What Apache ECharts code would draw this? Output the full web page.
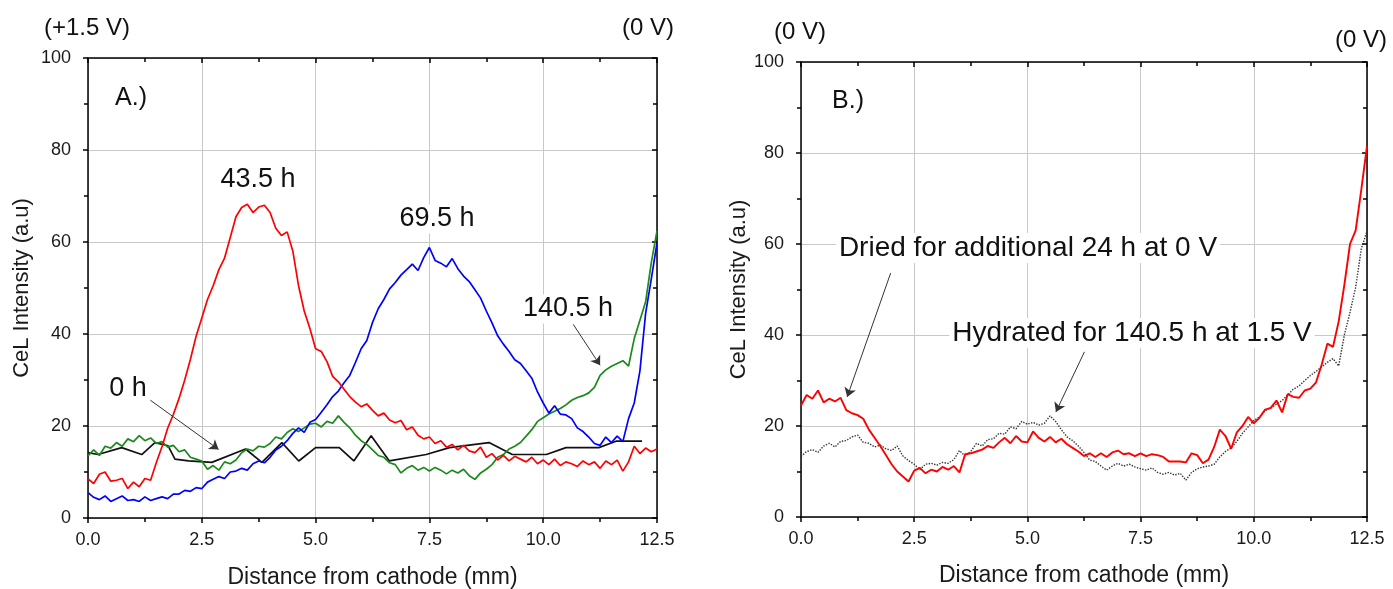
<!DOCTYPE html>
<html>
<head>
<meta charset="utf-8">
<script src="https://cdn.jsdelivr.net/npm/echarts@6/dist/echarts.min.js"></script>
<style>
html,body{margin:0;padding:0;background:#fff;}
#chart{width:1393px;height:589px;}
</style>
</head>
<body>
<div id="chart"></div>
<script>
// ---- data ----
const distance = [
  0, 0.125, 0.25, 0.375, 0.5, 0.625, 0.75, 0.875,
  1, 1.125, 1.25, 1.375, 1.5, 1.625, 1.75, 1.875,
  2, 2.125, 2.25, 2.375, 2.5, 2.625, 2.75, 2.875,
  3, 3.125, 3.25, 3.375, 3.5, 3.625, 3.75, 3.875,
  4, 4.125, 4.25, 4.375, 4.5, 4.625, 4.75, 4.875,
  5, 5.125, 5.25, 5.375, 5.5, 5.625, 5.75, 5.875,
  6, 6.125, 6.25, 6.375, 6.5, 6.625, 6.75, 6.875,
  7, 7.125, 7.25, 7.375, 7.5, 7.625, 7.75, 7.875,
  8, 8.125, 8.25, 8.375, 8.5, 8.625, 8.75, 8.875,
  9, 9.125, 9.25, 9.375, 9.5, 9.625, 9.75, 9.875,
  10, 10.125, 10.25, 10.375, 10.5, 10.625, 10.75, 10.875,
  11, 11.125, 11.25, 11.375, 11.5, 11.625, 11.75, 11.875,
  12, 12.125, 12.25, 12.375, 12.5
];

// Panel A
const a_43h = [
  8.5, 7.5, 9.5, 10, 8, 8.2, 8.6, 6.4,
  7.8, 6.8, 8.6, 8.2, 12, 15.5, 19.5, 22.5,
  26, 30, 34.5, 39.5, 43.5, 47.5, 50.5, 54,
  56.5, 61, 65.5, 67.5, 68.2, 66.4, 67.6, 68,
  66.4, 63, 61.4, 62.2, 58, 50.5, 45, 41.2,
  36.8, 36.2, 34, 30.8, 29.6, 28, 26.4, 25.2,
  24.2, 24.8, 23.4, 22.2, 22.8, 21.3, 20.7, 21.2,
  19.2, 19.8, 18, 17.2, 17.6, 16.2, 16.8, 15.4,
  16, 14.8, 15.8, 14.6, 14.2, 15.4, 13.2, 14,
  12.6, 13.6, 12.4, 13.4, 12.8, 12.2, 13.2, 11.8,
  12.6, 11.6, 12.8, 11.4, 12.2, 11.8, 11.2, 12.4,
  11.6, 12.2, 10.8, 12.4, 11.6, 12.6, 10.2, 12.2,
  15.6, 14, 15.2, 14.4, 15
];
const a_69h = [
  5.5, 4.5, 4, 4.8, 3.6, 4.2, 4.8, 3.8,
  4.0, 3.6, 4.6, 3.8, 4.2, 4.6, 4.2, 5.2,
  5.2, 6, 5.8, 6.6, 6.4, 7.8, 8.4, 9,
  8.6, 10, 10.2, 10.8, 10.4, 11.8, 12.4, 12,
  13.2, 14.8, 15.6, 16.8, 18.4, 19.6, 18.6, 20.8,
  21.4, 23, 24.6, 26.4, 27.6, 29.4, 31, 33.8,
  36.8, 38.6, 42.5, 45.5, 47.5, 49.8, 51.2, 52.8,
  54, 55.2, 53.8, 56.6, 58.8, 56, 55.4, 54.6,
  56.4, 54.2, 52.6, 51.4, 49.6, 47.8, 45, 42.4,
  39.6, 37.8, 36.2, 34.4, 33.6, 32, 30.4, 27.4,
  25, 22.8, 24.4, 22.6, 22.4, 21.6, 19.6, 18.8,
  17.6, 16.2, 15.8, 17.6, 16.4, 17.8, 16.6, 21.6,
  25, 32, 44.5, 52, 59.8
];
const a_140h = [
  13.5, 14.8, 13.6, 15.6, 15.2, 16.4, 15.6, 17.2,
  16.6, 17.9, 16.8, 17.4, 16.2, 16.6, 15.4, 15.8,
  14.4, 14.8, 13.2, 12.8, 12.4, 10.6, 11.4, 10.4,
  12.2, 11.8, 12.6, 14.2, 15, 14.6, 15.6, 15.4,
  16.2, 17.6, 17.2, 18.6, 19.4, 18.8, 19.6, 20.4,
  20.6, 19.8, 21, 20.6, 22.2, 20.8, 19.6, 18,
  16.8, 16, 14.8, 13.6, 13.2, 12, 11.6, 9.8,
  10.8, 11.4, 10.4, 11, 10.2, 11, 10.4, 9.6,
  10.4, 9.8, 10.6, 9.2, 8.4, 9.8, 10.6, 11.6,
  13.2, 13.8, 15, 15.6, 16.4, 17.8, 19.2, 21,
  21.8, 22.6, 23.2, 23.8, 24.6, 25.6, 26.2, 26.6,
  27.2, 28.4, 31, 32.2, 33, 33.6, 34.2, 33,
  39, 43, 47, 55.5, 62.4
];
const a_0h_x = [0, 0.22, 0.74, 1.18, 1.47, 1.76, 1.91, 2.21, 2.72, 3.46, 3.82, 4.26, 4.63, 5.0, 5.52, 5.84, 6.22, 6.62, 7.43, 7.94, 8.81, 9.32, 10.07, 10.5, 11.22, 11.6, 12.17];
const a_0h_y = [14.2, 13.8, 15.3, 13.8, 16.4, 15.7, 12.8, 12.4, 12.1, 15, 12.1, 16.4, 12.4, 15.3, 15.3, 12.4, 17.9, 12.4, 13.8, 15.3, 16.4, 13.8, 13.8, 15.3, 15.3, 16.7, 16.7];

// Panel B
const b_dried = [
  24.5, 26.8, 26, 27.8, 25.2, 26, 25.4, 26.2,
  23.5, 22.8, 22.4, 21.6, 19.2, 17.4, 15.6, 13.6,
  11.6, 10, 8.9, 7.8, 10.2, 10.8, 9.6, 10.4,
  10, 11, 10.4, 11.2, 9.8, 13.8, 14, 14.4,
  14.8, 15.6, 15.2, 16.4, 17.4, 16.2, 17.8, 16.6,
  16.4, 18.8, 17.4, 16.6, 17.6, 16.4, 17.2, 16,
  15.2, 14.4, 13.4, 14, 13.2, 14, 13.2, 14.2,
  14.6, 13.8, 14, 13.4, 14, 13.4, 13.8, 13.6,
  13.2, 12.2, 12.2, 12.2, 12, 14, 13.6, 11.8,
  12.6, 15.4, 19.2, 17.8, 15, 18.6, 20, 22,
  20.6, 21.8, 23.6, 24, 25.6, 23, 27, 26.4,
  26.2, 27.8, 28.2, 29.6, 33.5, 38.1, 37.4, 43,
  51, 60, 63, 72, 81.5
];
const b_hydrated = [
  13.3, 14.4, 14.8, 14.2, 15.6, 16.2, 15.4, 16.6,
  16.8, 17.6, 18, 16.4, 16.2, 15.4, 15.8, 15,
  14.6, 15.6, 13.4, 12.4, 11.6, 10.4, 11.6, 11.8,
  11.4, 12, 11.8, 12.6, 14.6, 13.4, 14.4, 16.2,
  15.6, 17, 17.2, 18.4, 18.2, 19.8, 19.4, 21,
  20.4, 20.8, 20.2, 20.6, 22.2, 21, 19.2, 17.6,
  16.8, 15.6, 14.2, 12.5, 12.2, 11.2, 10.3, 11.2,
  11.8, 11.2, 11.6, 11, 10.6, 10.3, 10.8, 9.8,
  9.4, 9.8, 9.2, 9.6, 8.1, 9.8, 10.6, 11,
  11.2, 11.6, 13.2, 14.4, 15.2, 16.6, 18.4, 19.8,
  21.2, 22, 23.4, 24, 24.8, 25.6, 26.8, 28.1,
  28.8, 30, 31.1, 32, 33, 34, 34.8, 33.2,
  40, 45, 50.5, 59, 62.8
];

const xTicks = [0, 2.5, 5, 7.5, 10, 12.5];
const yTicks = [0, 20, 40, 60, 80, 100];

// ---- chart ----
const FONT = '"Liberation Sans", Arial, sans-serif';
const pairs = (xs, ys) => xs.map((x, i) => [x, ys[i]]);

const tickStyle = { color: '#000', width: 1.5 };
function xAxes(grid, gap) {
  return [
    {
      type: 'value', gridIndex: grid, position: 'bottom',
      min: xTicks[0], max: xTicks[xTicks.length - 1], interval: xTicks[1] - xTicks[0],
      axisLine: { show: true, onZero: false, lineStyle: { color: '#000', width: 1.5 } },
      axisTick: { show: true, inside: false, length: 5, lineStyle: tickStyle },
      minorTick: { show: true, splitNumber: 2, length: 4, lineStyle: tickStyle },
      axisLabel: { formatter: v => v.toFixed(1), fontSize: 18, color: '#1a1a1a', margin: 13, fontFamily: FONT },
      splitLine: { show: true, lineStyle: { color: '#c8c8c8', width: 1 } },
      name: 'Distance from cathode (mm)', nameLocation: 'middle', nameGap: gap,
      nameTextStyle: { fontSize: 23, color: '#1a1a1a', fontFamily: FONT }
    },
    {
      type: 'value', gridIndex: grid, position: 'top',
      min: xTicks[0], max: xTicks[xTicks.length - 1], interval: xTicks[1] - xTicks[0],
      axisLine: { show: true, onZero: false, lineStyle: { color: '#000', width: 1.5 } },
      axisTick: { show: true, inside: true, length: 5, lineStyle: tickStyle },
      minorTick: { show: true, splitNumber: 2, length: 4, lineStyle: tickStyle },
      axisLabel: { show: false }, splitLine: { show: false }
    }
  ];
}
function yAxes(grid, gap) {
  return [
    {
      type: 'value', gridIndex: grid, position: 'left',
      min: yTicks[0], max: yTicks[yTicks.length - 1], interval: yTicks[1] - yTicks[0],
      axisLine: { show: true, onZero: false, lineStyle: { color: '#000', width: 1.5 } },
      axisTick: { show: true, inside: false, length: 5, lineStyle: tickStyle },
      minorTick: { show: true, splitNumber: 2, length: 4, lineStyle: tickStyle },
      axisLabel: { fontSize: 18, color: '#1a1a1a', margin: 17, fontFamily: FONT },
      splitLine: { show: true, lineStyle: { color: '#c8c8c8', width: 1 } },
      name: 'CeL Intensity (a.u)', nameLocation: 'middle', nameGap: gap,
      nameTextStyle: { fontSize: 22, color: '#1a1a1a', fontFamily: FONT }
    },
    {
      type: 'value', gridIndex: grid, position: 'right',
      min: yTicks[0], max: yTicks[yTicks.length - 1], interval: yTicks[1] - yTicks[0],
      axisLine: { show: true, onZero: false, lineStyle: { color: '#000', width: 1.5 } },
      axisTick: { show: true, inside: true, length: 5, lineStyle: tickStyle },
      minorTick: { show: true, splitNumber: 2, length: 4, lineStyle: tickStyle },
      axisLabel: { show: false }, splitLine: { show: false }
    }
  ];
}

const arrowLine = (segs) => ({
  silent: true, animation: false,
  symbol: ['none', 'arrow'], symbolSize: 9,
  lineStyle: { color: '#333', width: 1, type: 'solid' },
  label: { show: false },
  emphasis: { disabled: true },
  data: segs.map(s => [{ coord: s[0] }, { coord: s[1] }])
});

const line = (name, data, color, xi, yi, extra) => Object.assign({
  name, type: 'line', data, xAxisIndex: xi, yAxisIndex: yi,
  showSymbol: false, symbol: 'none', smooth: false,
  lineStyle: { color, width: 1.7 }, itemStyle: { color },
  z: 3
}, extra || {});

const txt = (text, x, y, size, bg) => ({
  type: 'text', z: 100,
  style: {
    text, x, y, font: size + 'px ' + FONT, fill: '#111',
    align: 'center', verticalAlign: 'middle',
    textAlign: 'center', textVerticalAlign: 'middle',
    backgroundColor: bg ? '#fff' : null, padding: bg ? [1, 3] : 0
  }
});

const chart = echarts.init(document.getElementById('chart'), null, { renderer: 'canvas' });
chart.setOption({
  animation: false,
  backgroundColor: '#fff',
  grid: [
    { left: 88, top: 58, width: 569, height: 460, containLabel: false, outerBoundsMode: 'none' },
    { left: 801, top: 62, width: 566, height: 455, containLabel: false, outerBoundsMode: 'none' }
  ],
  xAxis: [...xAxes(0, 48), ...xAxes(1, 47)],
  yAxis: [...yAxes(0, 55), ...yAxes(1, 47)],
  series: [
    line('0 h', pairs(a_0h_x, a_0h_y), '#111111', 0, 0, {
      markLine: arrowLine([[[1.37, 25.6], [2.87, 14.9]]])
    }),
    line('140.5 h', pairs(distance, a_140h), '#1a8a1a', 0, 0, {
      markLine: arrowLine([[[10.66, 42.1], [11.25, 33.2]]])
    }),
    line('69.5 h', pairs(distance, a_69h), '#0000ff', 0, 0),
    line('43.5 h', pairs(distance, a_43h), '#ff0000', 0, 0),
    line('Hydrated for 140.5 h at 1.5 V', pairs(distance, b_hydrated), '#333333', 2, 2, {
      lineStyle: { color: '#333333', width: 1.4, type: 'dotted' },
      markLine: arrowLine([[[6.26, 36.3], [5.63, 23.1]]])
    }),
    line('Dried for additional 24 h at 0 V', pairs(distance, b_dried), '#ff0000', 2, 2, {
      lineStyle: { color: '#ff0000', width: 1.9 },
      markLine: arrowLine([[[1.98, 53.6], [1.02, 26.4]]])
    })
  ],
  graphic: [
    txt('(+1.5 V)', 87, 28, 24),
    txt('(0 V)', 648, 28, 24),
    txt('(0 V)', 800, 32, 24),
    txt('(0 V)', 1361, 40, 24),
    txt('A.)', 131, 98, 25),
    txt('B.)', 848, 101, 25),
    txt('43.5 h', 258, 180, 27, true),
    txt('69.5 h', 437, 219, 27, true),
    txt('140.5 h', 568, 309, 27, true),
    txt('0 h', 128, 389, 27, true),
    txt('Dried for additional 24 h at 0 V', 1028, 248, 28, true),
    txt('Hydrated for 140.5 h at 1.5 V', 1132, 333, 28, true)
  ]
});
</script>
</body>
</html>
